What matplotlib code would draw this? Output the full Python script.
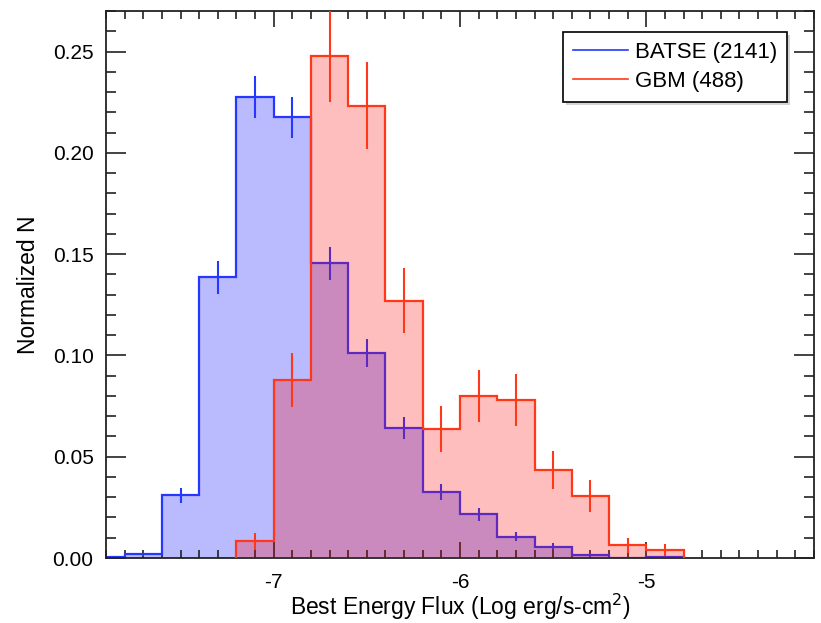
import matplotlib
matplotlib.use("Agg")
import matplotlib.pyplot as plt
from matplotlib.ticker import MultipleLocator, FormatStrFormatter
import numpy as np

plt.rcParams['font.family'] = ['Liberation Sans', 'DejaVu Sans']
plt.rcParams['axes.unicode_minus'] = False

# ---- data ----
batse_edges = [-8.0, -7.8, -7.6, -7.4, -7.2, -7.0, -6.8, -6.6, -6.4, -6.2,
               -6.0, -5.8, -5.6, -5.4, -5.2, -5.0, -4.8]
batse_vals = [0.0005, 0.0018, 0.0309, 0.1385, 0.2277, 0.2175, 0.1455, 0.1013,
              0.0640, 0.0325, 0.0215, 0.0104, 0.0056, 0.0015, 0.0, 0.0007]
batse_err = [0.0005, 0.0009, 0.0038, 0.0080, 0.0103, 0.0101, 0.0082, 0.0069,
             0.0055, 0.0039, 0.0031, 0.0022, 0.0016, 0.0008, 0.0, 0.0005]

gbm_edges = [-7.2, -7.0, -6.8, -6.6, -6.4, -6.2, -6.0, -5.8, -5.6, -5.4,
             -5.2, -5.0, -4.8]
gbm_vals = [0.0082, 0.0878, 0.2477, 0.2232, 0.1270, 0.0636, 0.0800, 0.0780,
            0.0434, 0.0306, 0.0063, 0.0040]
gbm_err = [0.0041, 0.0134, 0.0225, 0.0214, 0.0161, 0.0114, 0.0128, 0.0126,
           0.0094, 0.0079, 0.0036, 0.0029]

labels = ["BATSE (2141)", "GBM (488)"]
xlabel = "Best Energy Flux (Log erg/s-cm$^2$)"
ylabel = "Normalized N"

blue_line = (0.15, 0.22, 1.0)
red_line = (1.0, 0.22, 0.1)
blue_fill = (0.0, 0.0, 1.0, 0.27)
red_fill = (1.0, 0.0, 0.0, 0.255)

fig = plt.figure(figsize=(8.21, 6.23), dpi=100)
ax = fig.add_axes([106 / 821, 1 - 558 / 623, 708 / 821, 547 / 623])

def centers(edges):
    e = np.asarray(edges)
    return (e[:-1] + e[1:]) / 2

# BATSE
ax.stairs(batse_vals, batse_edges, fill=True, color=blue_fill, lw=0, zorder=1)
ax.stairs(batse_vals, batse_edges, baseline=0, color=blue_line, lw=1.6, zorder=2,
          label=labels[0])
ax.errorbar(centers(batse_edges), batse_vals, yerr=batse_err, fmt='none',
            ecolor=blue_line, elinewidth=1.5, capsize=0, zorder=2)

# GBM
ax.stairs(gbm_vals, gbm_edges, fill=True, color=red_fill, lw=0, zorder=3)
ax.stairs(gbm_vals, gbm_edges, baseline=0, color=red_line, lw=1.6, zorder=4,
          label=labels[1])
ax.errorbar(centers(gbm_edges), gbm_vals, yerr=gbm_err, fmt='none',
            ecolor=red_line, elinewidth=1.5, capsize=0, zorder=4)

ax.set_xlim(-7.9, -4.1)
ax.set_ylim(0, 0.27)

ax.xaxis.set_major_locator(MultipleLocator(1))
ax.xaxis.set_minor_locator(MultipleLocator(0.1))
ax.xaxis.set_major_formatter(FormatStrFormatter('%d'))
ax.yaxis.set_major_locator(MultipleLocator(0.05))
ax.yaxis.set_minor_locator(MultipleLocator(0.01))
ax.yaxis.set_major_formatter(FormatStrFormatter('%.2f'))

ax.tick_params(axis='both', which='both', direction='in', top=True, right=True,
               width=1.2, labelsize=15, color='#222222')
ax.tick_params(axis='x', which='major', length=11.5, pad=10.5)
ax.tick_params(axis='x', which='minor', length=5.5)
ax.tick_params(axis='y', which='major', length=14.5, pad=9)
ax.tick_params(axis='y', which='minor', length=7)
for s in ax.spines.values():
    s.set_linewidth(1.3)
    s.set_color('#222222')

ax.set_xlabel(xlabel, fontsize=16.5, labelpad=0.5)
ax.set_ylabel(ylabel, fontsize=16.5, labelpad=9)

leg = ax.legend(loc='upper right', bbox_to_anchor=(0.962, 0.9616), fontsize=16,
                frameon=True, fancybox=False, edgecolor='black', handlelength=2.45,
                handletextpad=0.32, borderpad=0.45, labelspacing=0.36,
                borderaxespad=0,
                shadow={'facecolor': '#d4d4d4', 'edgecolor': 'none', 'alpha': 1})
leg.get_frame().set_linewidth(1.2)
for h in leg.get_lines():
    h.set_linewidth(1.2)

fig.savefig("out.png", dpi=100)
